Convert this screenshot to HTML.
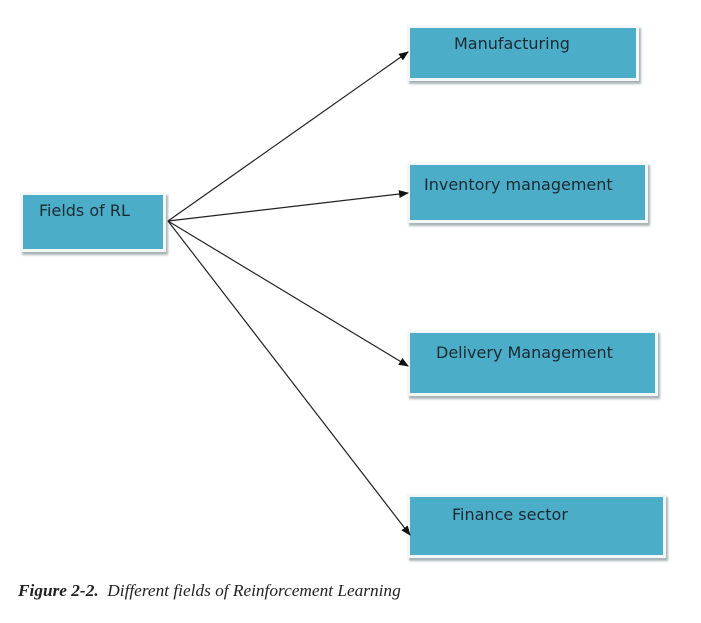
<!DOCTYPE html>
<html><head><style>
body{margin:0;width:701px;height:623px;background:#fff;position:relative;overflow:hidden;font-family:"DejaVu Sans","Liberation Sans",sans-serif}
.b{position:absolute;background:#4badc8;border:3px solid #f4f7f8;box-shadow:2px 3px 2px #a8b4b8;color:#1a2a33;font-size:16px;box-sizing:border-box}
.b span{position:absolute;top:6px}
.cap{position:absolute;left:18px;top:581px;font-family:"Liberation Serif",serif;font-style:italic;font-size:17.3px;color:#222;white-space:nowrap}
</style></head><body>
<div class="b" style="left:20px;top:192px;width:146px;height:60px"><span style="left:16px">Fields of RL</span></div>
<div class="b" style="left:407px;top:25px;width:232px;height:56px"><span style="left:44px">Manufacturing</span></div>
<div class="b" style="left:407px;top:162px;width:241px;height:61px"><span style="left:14px;top:10px">Inventory management</span></div>
<div class="b" style="left:407px;top:330px;width:251px;height:66px"><span style="left:26px;top:10px">Delivery Management</span></div>
<div class="b" style="left:407px;top:494px;width:259px;height:64px"><span style="left:42px;top:8px">Finance sector</span></div>
<svg width="701" height="623" style="position:absolute;left:0;top:0">
<defs><marker id="a" markerWidth="10" markerHeight="8" refX="9" refY="4" orient="auto" markerUnits="userSpaceOnUse"><path d="M0,0L10,4L0,8z" fill="#111"/></marker></defs>
<g stroke="#222" stroke-width="1.2" marker-end="url(#a)">
<line x1="168" y1="221" x2="408" y2="52"/>
<line x1="168" y1="221" x2="408" y2="193"/>
<line x1="168" y1="221" x2="408" y2="366"/>
<line x1="168" y1="221" x2="410" y2="535"/>
</g></svg>
<div class="cap"><b>Figure 2-2.</b>&nbsp; Different fields of Reinforcement Learning</div>
</body></html>
